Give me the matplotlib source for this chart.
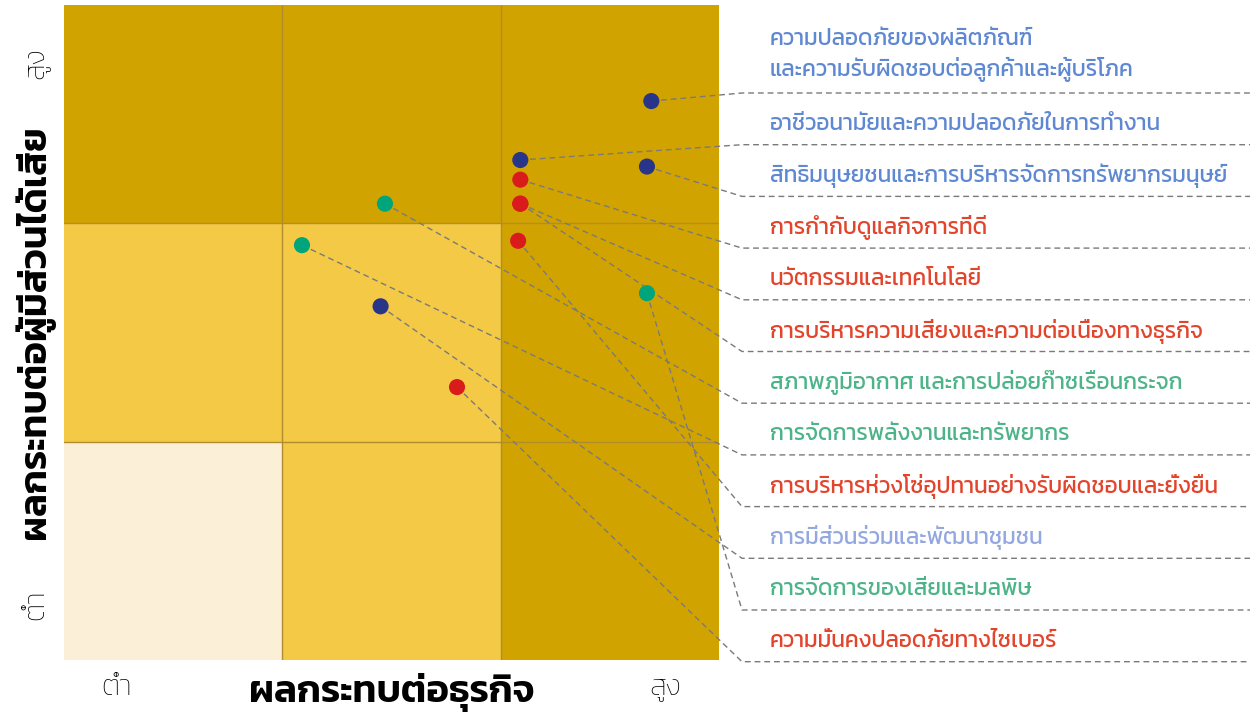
import matplotlib
matplotlib.use("Agg")
import matplotlib.pyplot as plt
from matplotlib.patches import Rectangle
from matplotlib.lines import Line2D

FONT = "Kanit"

# ---------------- data ----------------
topics = [
    "ความปลอดภัยของผลิตภัณฑ์\nและความรับผิดชอบต่อลูกค้าและผู้บริโภค",
    "อาชีวอนามัยและความปลอดภัยในการทำงาน",
    "สิทธิมนุษยชนและการบริหารจัดการทรัพยากรมนุษย์",
    "การกำกับดูแลกิจการที่ดี",
    "นวัตกรรมและเทคโนโลยี",
    "การบริหารความเสี่ยงและความต่อเนื่องทางธุรกิจ",
    "สภาพภูมิอากาศ และการปล่อยก๊าซเรือนกระจก",
    "การจัดการพลังงานและทรัพยากร",
    "การบริหารห่วงโซ่อุปทานอย่างรับผิดชอบและยั่งยืน",
    "การมีส่วนร่วมและพัฒนาชุมชน",
    "การจัดการของเสียและมลพิษ",
    "ความมั่นคงปลอดภัยทางไซเบอร์",
]
# impact on business (x) and impact on stakeholders (y), scale 0-3
business_impact = [2.69, 2.09, 2.67, 2.09, 2.09, 2.09, 1.47, 1.09, 2.08, 1.45, 2.67, 1.80]
stakeholder_impact = [2.56, 2.29, 2.26, 2.20, 2.09, 2.09, 2.09, 1.90, 1.92, 1.62, 1.68, 1.25]
group = ["social", "social", "social", "gov", "gov", "gov", "env", "env", "gov", "social2", "env", "gov"]

x_ticklabels = ["ต่ำ", "สูง"]
y_ticklabels = ["ต่ำ", "สูง"]
x_title = "ผลกระทบต่อธุรกิจ"
y_title = "ผลกระทบต่อผู้มีส่วนได้เสีย"

# cell shading level [row from bottom][col from left]
cell_level = [
    [0, 1, 2],
    [1, 1, 2],
    [2, 2, 2],
]

# ---------------- styles ----------------
cell_colors = {0: "#FCEFD7", 1: "#F3C946", 2: "#D1A300"}
grid_color = "#B08C2C"
dot_colors = {"social": "#283589", "social2": "#283589", "gov": "#D91B1C", "env": "#00A57B"}
text_colors = {"social": "#5F88D2", "social2": "#93A8E0", "gov": "#E2442C", "env": "#4DB388"}
leader_color = "#7A7A7A"

W, H = 1257, 717
fig = plt.figure(figsize=(W / 100, H / 100), dpi=100)
ax = fig.add_axes([64 / W, (H - 660) / H, 655 / W, 655 / H])
ax.set_xlim(0, 3)
ax.set_ylim(0, 3)
for s in ax.spines.values():
    s.set_visible(False)
ax.set_xticks([])
ax.set_yticks([])

for r in range(3):
    for c in range(3):
        ax.add_patch(Rectangle((c, r), 1, 1, facecolor=cell_colors[cell_level[r][c]],
                               edgecolor="none", zorder=0))
for v in (1, 2):
    ax.axvline(v, color=grid_color, lw=1.0, zorder=1)
    ax.axhline(v, color=grid_color, lw=1.0, zorder=1)

ax.scatter(business_impact, stakeholder_impact, s=135,
           c=[dot_colors[g] for g in group], edgecolors="none", zorder=5, clip_on=False)

# axis tick-like labels and titles
tk = dict(fontsize=21, family=FONT, weight="light", color="#000000", ha="center", va="center")
ax.text(0.081, -0.043, x_ticklabels[0], transform=ax.transAxes, **tk)
ax.text(0.918, -0.043, x_ticklabels[1], transform=ax.transAxes, **tk)
ax.text(-0.043, 0.084, y_ticklabels[0], transform=ax.transAxes, rotation=90, **tk)
ax.text(-0.043, 0.912, y_ticklabels[1], transform=ax.transAxes, rotation=90, **tk)
tt = dict(fontsize=27.5, family=FONT, weight="semibold", color="#000000", ha="center", va="center")
ax.text(0.5, -0.049, x_title, transform=ax.transAxes, **tt)
ax.text(-0.044, 0.5, y_title, transform=ax.transAxes, rotation=90, **tt)

# ---------------- labels with leader lines ----------------
label_x = 770          # px
elbow_x = 742          # px
line_end_x = 1250      # px
first_sep = 93         # px from top
row_h = 51.7           # px
inv = ax.transData.inverted()

def px_to_data(px, py):
    return inv.transform(fig.transFigure.transform((px / W, 1 - py / H)))

for i, (name, g) in enumerate(zip(topics, group)):
    if i == 0:
        sep = first_sep
        ty = sep - 37
    else:
        sep = first_sep + row_h * i
        ty = sep - 20.5
    fig.text(label_x / W, 1 - ty / H, name, fontsize=16.3, family=FONT, color=text_colors[g],
             ha="left", va="center", linespacing=1.45)
    ex, ey = px_to_data(elbow_x, sep)
    rx, ry = px_to_data(line_end_x, sep)
    ax.add_line(Line2D([business_impact[i], ex, rx], [stakeholder_impact[i], ey, ry],
                       color=leader_color, lw=1.0, dashes=(4.2, 2.8), zorder=3, clip_on=False))

fig.savefig("out.png", dpi=100)
